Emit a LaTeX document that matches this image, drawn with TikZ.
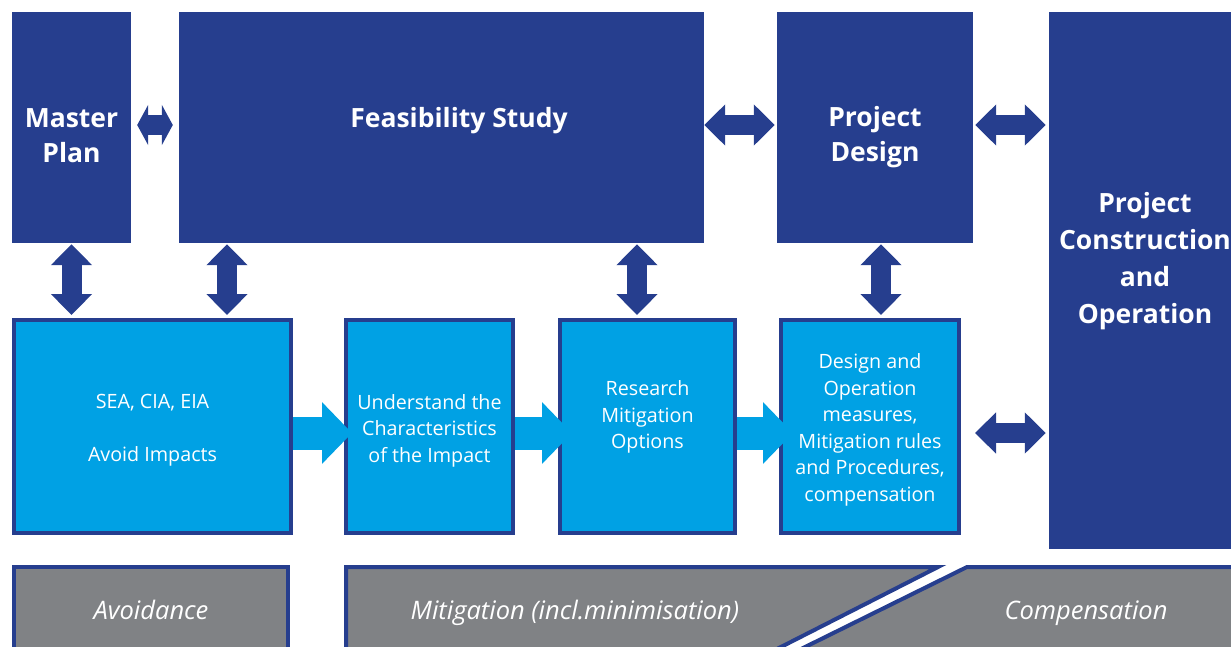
\documentclass[tikz,border=0pt]{standalone}
\usepackage{fontspec}
\setmainfont{Open Sans}
\usepackage{tikz}
\usetikzlibrary{arrows.meta,positioning,calc}
\definecolor{phaseblue}{RGB}{38,62,142}
\definecolor{stepblue}{RGB}{0,161,228}
\definecolor{bargray}{RGB}{128,130,133}

\begin{document}
\begin{tikzpicture}
[x=1pt, y=-1pt,
% STYLES
% The phase style is used for the dark blue project stages
phase/.style={rectangle, fill=phaseblue, inner sep=0pt},
phasetext/.style={text=white, align=center, inner sep=0pt, font=\fontsize{26.5}{35}\selectfont\bfseries},
% The stepbox style is used for the light blue impact steps
stepbox/.style={rectangle, fill=stepblue, draw=phaseblue, line width=4pt, inner sep=0pt},
steptext/.style={text=white, align=center, inner sep=0pt, font=\fontsize{19.7}{26.5}\selectfont},
% The bar style is used for the grey strips at the bottom
bar/.style={fill=bargray, draw=phaseblue, line width=4pt},
bartext/.style={text=white, anchor=base, inner sep=0pt, font=\fontsize{25.5}{26}\selectfont\itshape},
% links and flows
link/.style={phaseblue, line width=20pt, {Triangle[length=21pt,width=40pt]}-{Triangle[length=21pt,width=40pt]}},
flow/.style={stepblue, line width=33pt, -{Triangle[length=30pt,width=60pt]}}]

\useasboundingbox (0,0) rectangle (1231,646);

% Draw phases
\node [phase, minimum width=119pt, minimum height=231pt] (mp) at (71.5,127.5) {};
\node [phase, minimum width=525pt, minimum height=231pt] (fs) at (441.5,127.5) {};
\node [phase, minimum width=196pt, minimum height=231pt] (pd) at (875,127.5) {};
\node [phase, minimum width=192pt, minimum height=537pt] (pc) at (1145,280.5) {};

\node [phasetext] (mp-text) at ([yshift=-8.5pt]mp.center) {Master\\Plan};
\node [phasetext] (fs-text) at ([xshift=17.5pt,yshift=7pt]fs.center) {Feasibility Study};
\node [phasetext] (pd-text) at ([yshift=-10pt]pd.center) {Project\\Design};
\node [phasetext, font=\fontsize{26.5}{37}\selectfont\bfseries] (pc-text) at ([yshift=19pt]pc.center) {Project\\Construction\\and\\Operation};

% Draw steps
\node [stepbox, minimum width=277pt, minimum height=213pt] (b1) at (152.5,426.5) {};
\node [stepbox, minimum width=167pt, minimum height=213pt] (b2) at (429.5,426.5) {};
\node [stepbox, minimum width=175pt, minimum height=213pt] (b3) at (647.5,426.5) {};
\node [stepbox, minimum width=178pt, minimum height=213pt] (b4) at (870,426.5) {};

\node [steptext] (b1-text) at ([yshift=-4pt]b1.center) {SEA, CIA, EIA\\[26.5pt]Avoid Impacts};
\node [steptext] (b2-text) at ([yshift=-4pt]b2.center) {Understand the\\Characteristics\\of the Impact};
\node [steptext] (b3-text) at ([yshift=9.5pt]b3.center) {Research\\Mitigation\\Options};
\node [steptext] (b4-text) at ([yshift=-3.5pt]b4.center) {Design and\\Operation\\measures,\\Mitigation rules\\and Procedures,\\compensation};

%%%%%%%%%%%%%%%
% Bottom strips
\filldraw [bar] (14,650) |- (288,567) -- (288,650);
\filldraw [bar] (346,650) |- (938,567) -- (775,650);
\filldraw [bar] (1240,650) |- (967,567) -- (799,650);

\node [bartext] (avoid) at (151,619) {Avoidance};
\node [bartext] (mitig) at (575,619) {Mitigation (incl.minimisation)};
\node [bartext] (comp) at (1086,619) {Compensation};
%%%%%%%%%%%%%%%

% Draw the links between phases and steps
\coordinate (topline) at (0,125);
\coordinate (flowline) at (0,433);
\coordinate (v2) at (227,0);
\coordinate (v3) at (637,0);
\coordinate (v4) at (881,0);

\draw [link, {Triangle[length=11pt,width=40pt]}-{Triangle[length=11pt,width=40pt]}, shorten <=6pt, shorten >=6pt] (mp.east |- topline) -- (fs.west |- topline);
\draw [link, shorten >=2pt] (fs.east |- topline) -- (pd.west |- topline);
\draw [link, shorten <=2pt, shorten >=3pt] (pd.east |- topline) -- (pc.west |- topline);
\draw [link, shorten <=14pt, shorten >=3pt] (b4.east |- flowline) -- (pc.west |- flowline);

\draw [link, shorten <=1pt, shorten >=3pt] (mp.south) -- (mp.south |- b1.north);
\draw [link, shorten <=1pt, shorten >=3pt] (v2 |- fs.south) -- (v2 |- b1.north);
\draw [link, shorten <=1pt, shorten >=3pt] (v3 |- fs.south) -- (v3 |- b3.north);
\draw [link, shorten <=1pt, shorten >=3pt] (v4 |- pd.south) -- (v4 |- b4.north);

\draw [flow, shorten >=-8pt] (b1.east |- flowline) -- (b2.west |- flowline);
\draw [flow, shorten >=-14pt] (b2.east |- flowline) -- (b3.west |- flowline);
\draw [flow, shorten >=-14pt] (b3.east |- flowline) -- (b4.west |- flowline);

\end{tikzpicture}
\end{document}
